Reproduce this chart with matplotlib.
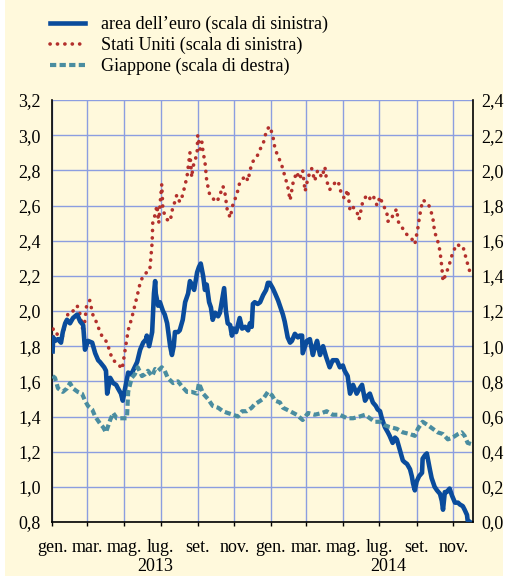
import matplotlib
matplotlib.use('Agg')
import numpy as np
import matplotlib.pyplot as plt
import matplotlib.dates as mdates
from matplotlib.ticker import MultipleLocator, FuncFormatter
from matplotlib.patches import Rectangle

# ---------------- data ----------------
start_date = np.datetime64('2013-01-01')

euro_days = [1, 2, 5, 10, 15, 18, 22, 25, 30, 35, 42, 47, 52, 55, 60, 67, 72, 77, 80, 87, 90, 92,
             97, 102, 107, 110, 115, 118, 123, 127, 132, 135, 142, 147, 152, 157, 158, 162, 167,
             170, 172, 173, 177, 180, 185, 188, 192, 195, 197, 200, 203, 205, 210, 213, 218, 222,
             227, 230, 233, 237, 242, 245, 248, 252, 255, 258, 262, 265, 268, 272, 277, 280, 283,
             287, 290, 293, 297, 300, 303, 307, 310, 313, 317, 322, 327, 330, 333, 335, 338, 343,
             347, 352, 357, 360, 363, 368, 372, 377, 380, 385, 388, 393, 397, 400, 405, 410, 413,
             417, 418, 422, 425, 430, 435, 438, 442, 447, 452, 457, 463, 468, 475, 480, 485, 488,
             493, 497, 502, 508, 513, 517, 522, 527, 530, 535, 540, 543, 547, 550, 555, 560, 563,
             568, 572, 575, 580, 585, 588, 592, 597, 600, 602, 605, 608, 612, 617, 618, 622, 625,
             630, 633, 638, 642, 647, 650, 652, 655, 658, 663, 667, 672, 677, 680, 685, 688, 692,
             693, 697]
euro_vals = [1.77, 1.85, 1.83, 1.84, 1.82, 1.88, 1.93, 1.95, 1.93, 1.96, 1.98, 1.94, 1.92, 1.78,
             1.83, 1.82, 1.76, 1.72, 1.71, 1.68, 1.66, 1.53, 1.62, 1.59, 1.58, 1.56, 1.53, 1.49,
             1.58, 1.65, 1.64, 1.66, 1.71, 1.78, 1.82, 1.84, 1.86, 1.80, 1.88, 2.10, 2.17, 2.10,
             2.03, 2.05, 2.00, 1.98, 1.93, 1.85, 1.80, 1.75, 1.80, 1.88, 1.88, 1.89, 1.95, 2.05,
             2.10, 2.17, 2.15, 2.12, 2.22, 2.25, 2.27, 2.20, 2.12, 2.15, 2.05, 2.02, 1.95, 1.99,
             1.97, 1.99, 2.05, 2.13, 2.00, 1.93, 1.92, 1.86, 1.90, 1.88, 1.92, 1.96, 1.90, 1.91,
             1.89, 1.93, 1.91, 2.04, 2.05, 2.04, 2.05, 2.09, 2.12, 2.16, 2.16, 2.13, 2.10, 2.06,
             2.03, 1.98, 1.94, 1.85, 1.82, 1.83, 1.87, 1.85, 1.86, 1.86, 1.76, 1.80, 1.83, 1.84,
             1.75, 1.79, 1.83, 1.75, 1.80, 1.74, 1.68, 1.72, 1.72, 1.68, 1.69, 1.66, 1.63, 1.53,
             1.58, 1.53, 1.56, 1.58, 1.49, 1.52, 1.53, 1.48, 1.46, 1.44, 1.43, 1.39, 1.34, 1.31,
             1.29, 1.25, 1.28, 1.27, 1.21, 1.15, 1.14, 1.13, 1.10, 1.06, 1.02, 0.98, 1.03, 1.06,
             1.08, 1.16, 1.18, 1.19, 1.10, 1.05, 1.00, 0.98, 0.96, 0.92, 0.87, 0.97, 0.97, 0.99,
             0.95, 0.91, 0.91, 0.90, 0.89, 0.87, 0.84, 0.81, 0.80]

us_days = [1, 2, 5, 10, 17, 22, 27, 32, 35, 42, 47, 52, 55, 58, 63, 68, 75, 80, 83, 92, 97, 102,
           110, 117, 122, 127, 133, 138, 143, 147, 152, 158, 163, 167, 168, 172, 175, 178, 180,
           183, 185, 188, 192, 197, 202, 205, 208, 213, 218, 222, 225, 230, 233, 235, 238, 242,
           243, 247, 250, 252, 255, 258, 263, 268, 275, 280, 285, 288, 292, 297, 302, 308, 313,
           318, 322, 327, 330, 335, 342, 347, 352, 358, 363, 368, 372, 377, 383, 388, 393, 397,
           402, 408, 413, 418, 422, 427, 433, 438, 443, 450, 455, 458, 463, 472, 477, 483, 488,
           493, 497, 502, 508, 512, 518, 525, 530, 535, 542, 547, 552, 558, 560, 567, 568, 575,
           577, 583, 588, 593, 600, 605, 610, 613, 618, 625, 630, 635, 638, 643, 647, 650, 652,
           658, 663, 668, 675, 680, 685, 692, 697]
us_vals = [1.77, 1.90, 1.89, 1.86, 1.85, 1.92, 1.99, 2.00, 2.00, 2.03, 1.98, 1.88, 1.95, 2.04,
           2.06, 1.98, 1.93, 1.88, 1.86, 1.82, 1.76, 1.72, 1.70, 1.67, 1.78, 1.89, 1.96, 2.03,
           2.10, 2.16, 2.20, 2.22, 2.23, 2.39, 2.50, 2.55, 2.60, 2.50, 2.60, 2.72, 2.57, 2.55,
           2.52, 2.51, 2.60, 2.62, 2.66, 2.62, 2.66, 2.72, 2.76, 2.90, 2.76, 2.82, 2.85, 2.90,
           3.00, 2.92, 2.96, 2.90, 2.85, 2.74, 2.66, 2.64, 2.62, 2.66, 2.71, 2.68, 2.58, 2.53,
           2.61, 2.66, 2.73, 2.75, 2.77, 2.74, 2.80, 2.85, 2.88, 2.92, 2.95, 3.03, 3.05, 3.00,
           2.92, 2.88, 2.83, 2.77, 2.71, 2.63, 2.73, 2.79, 2.75, 2.80, 2.68, 2.76, 2.81, 2.74,
           2.80, 2.76, 2.82, 2.74, 2.69, 2.73, 2.74, 2.66, 2.64, 2.69, 2.57, 2.59, 2.57, 2.52,
           2.62, 2.66, 2.64, 2.66, 2.60, 2.65, 2.60, 2.57, 2.51, 2.52, 2.55, 2.58, 2.51, 2.48,
           2.45, 2.43, 2.41, 2.38, 2.47, 2.54, 2.63, 2.62, 2.59, 2.53, 2.45, 2.40, 2.34, 2.25,
           2.17, 2.22, 2.27, 2.33, 2.38, 2.37, 2.37, 2.28, 2.22]

japan_days = [1, 5, 10, 18, 25, 30, 35, 43, 50, 55, 60, 67, 72, 80, 85, 90, 97, 102, 108, 117,
              125, 127, 133, 138, 143, 150, 155, 160, 167, 172, 177, 183, 188, 193, 202, 210,
              217, 225, 233, 242, 245, 252, 260, 268, 277, 285, 293, 302, 310, 317, 325, 333,
              338, 343, 352, 360, 367, 372, 380, 385, 397, 408, 418, 427, 438, 450, 458, 468,
              480, 492, 502, 513, 522, 530, 538, 547, 555, 563, 575, 585, 597, 605, 610, 618,
              627, 635, 643, 652, 660, 668, 677, 683, 688, 693, 702]
japan_vals = [0.83, 0.82, 0.76, 0.74, 0.76, 0.79, 0.76, 0.74, 0.73, 0.69, 0.66, 0.64, 0.60, 0.56,
              0.54, 0.51, 0.58, 0.62, 0.59, 0.59, 0.59, 0.74, 0.82, 0.84, 0.88, 0.83, 0.84, 0.86,
              0.83, 0.87, 0.86, 0.88, 0.86, 0.82, 0.79, 0.80, 0.77, 0.74, 0.74, 0.73, 0.79, 0.73,
              0.70, 0.66, 0.65, 0.63, 0.62, 0.61, 0.60, 0.63, 0.63, 0.65, 0.67, 0.68, 0.70, 0.74,
              0.72, 0.69, 0.68, 0.65, 0.63, 0.61, 0.58, 0.62, 0.61, 0.62, 0.63, 0.61, 0.61, 0.59,
              0.59, 0.60, 0.61, 0.59, 0.57, 0.57, 0.55, 0.54, 0.53, 0.51, 0.50, 0.49, 0.53, 0.57,
              0.55, 0.53, 0.51, 0.50, 0.47, 0.48, 0.50, 0.51, 0.49, 0.45, 0.44]

series_labels = ["area dell\u2019euro (scala di sinistra)",
                 "Stati Uniti (scala di sinistra)",
                 "Giappone (scala di destra)"]
month_names = ['gen.', 'feb.', 'mar.', 'apr.', 'mag.', 'giu.',
               'lug.', 'ago.', 'set.', 'ott.', 'nov.', 'dic.']
year_labels = ['2013', '2014']
year_label_days = [172, 560]

# ---------------- style ----------------
BG = '#FFF9DC'
GRID = '#8C9EE0'
C_EURO = '#0A4C9C'
C_US = '#B3302C'
C_JP = '#4A8DA0'

plt.rcParams['font.family'] = ['Liberation Serif', 'DejaVu Serif']
plt.rcParams['font.size'] = 13

W, H = 507, 576
fig = plt.figure(figsize=(W / 100, H / 100), dpi=100)
fig.patch.set_facecolor('white')
fig.patches.append(Rectangle((5 / W, 0), 498 / W, 1, transform=fig.transFigure,
                             facecolor=BG, edgecolor='none', zorder=-10))

L, R, T, B = 52, 473, 100, 522
ax = fig.add_axes([L / W, 1 - B / H, (R - L) / W, (B - T) / H])
ax.set_facecolor(BG)
ax.patch.set_alpha(0)


def to_dates(days):
    return start_date + np.array(days).astype('timedelta64[D]')


ax.plot(to_dates(us_days), us_vals, color=C_US, lw=2.6, linestyle=(0, (0.05, 2.0)),
        dash_capstyle='round', zorder=3, label=series_labels[1])
ax.plot(to_dates(euro_days), euro_vals, color=C_EURO, lw=3.3, solid_joinstyle='round',
        zorder=4, label=series_labels[0])

ax2 = ax.twinx()
ax2.plot(to_dates(japan_days), japan_vals, color=C_JP, lw=3.0, linestyle=(0, (1.5, 0.8)),
         zorder=3, label=series_labels[2])

x0 = start_date
x1 = start_date + np.timedelta64(702, 'D')
ax.set_xlim(x0, x1)
ax.set_ylim(0.8, 3.2)
ax2.set_ylim(0.0, 2.4)

ax.yaxis.set_major_locator(MultipleLocator(0.2))
ax2.yaxis.set_major_locator(MultipleLocator(0.2))
fmt = FuncFormatter(lambda v, p: f"{v:.1f}".replace('.', ','))
ax.yaxis.set_major_formatter(fmt)
ax2.yaxis.set_major_formatter(fmt)

ax.xaxis.set_major_locator(mdates.MonthLocator(bymonth=[1, 3, 5, 7, 9, 11]))
ax.xaxis.set_minor_locator(mdates.MonthLocator(bymonth=[1, 7]))
ax.xaxis.set_major_formatter(FuncFormatter(
    lambda v, p: month_names[mdates.num2date(v).month - 1]))
ax.xaxis.set_minor_formatter(FuncFormatter(lambda v, p: ''))

ax.grid(True, which='major', color=GRID, lw=1.0, zorder=0)
ax.set_axisbelow(True)

ax.tick_params(axis='x', which='major', direction='out', length=3, width=1, pad=9,
               labelsize=13, color='black')
ax.tick_params(axis='x', which='minor', direction='out', length=9, width=1.5, color='black')
ax.tick_params(axis='y', length=0, pad=8, labelsize=13)
ax2.tick_params(axis='y', length=0, pad=6, labelsize=13)

for a in (ax, ax2):
    a.spines['top'].set_visible(False)
    for s in ('left', 'right', 'bottom'):
        a.spines[s].set_color('black')
        a.spines[s].set_linewidth(1.2)
ax2.spines['left'].set_visible(False)
ax2.spines['bottom'].set_visible(False)
ax.spines['right'].set_visible(False)

for lab, d in zip(year_labels, year_label_days):
    ax.text(start_date + np.timedelta64(d, 'D'), -(575 - B) / (B - T), lab,
            transform=ax.get_xaxis_transform(), ha='center', va='bottom', fontsize=13)

h1, l1 = ax.get_legend_handles_labels()
h2, l2 = ax2.get_legend_handles_labels()
handles = [h1[1], h1[0], h2[0]]
labels = [l1[1], l1[0], l2[0]]
fig.legend(handles, labels, loc='upper left', bbox_to_anchor=(50 / W, 1 - 16 / H),
           frameon=False, fontsize=13, handlelength=1.95, handletextpad=0.85,
           labelspacing=0.2, borderpad=0, borderaxespad=0)

fig.savefig('out.png', dpi=100, facecolor=fig.get_facecolor())
